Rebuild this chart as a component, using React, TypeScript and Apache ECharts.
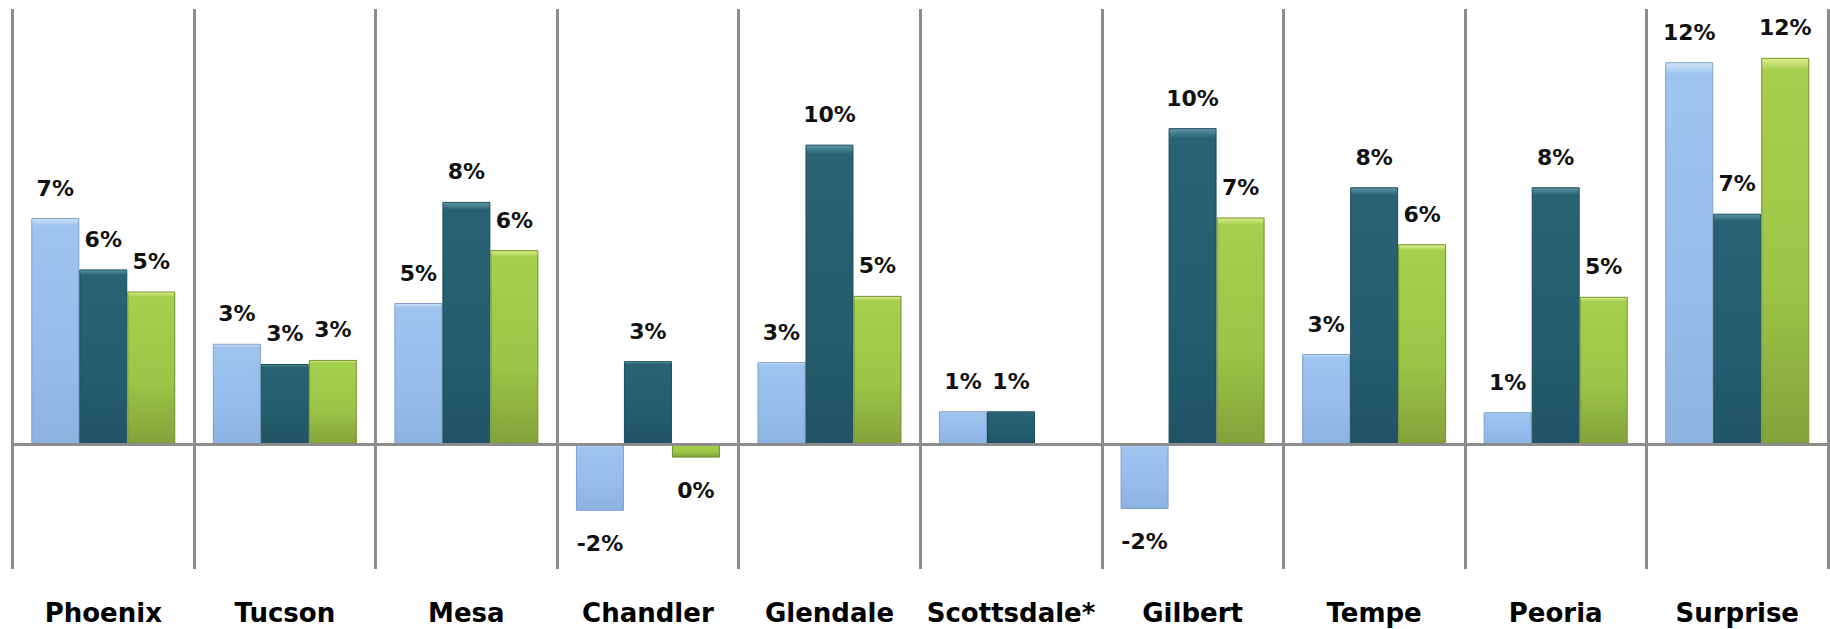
import React, { useEffect, useRef } from "react";
import * as echarts from "echarts";

const categories = ["Phoenix", "Tucson", "Mesa", "Chandler", "Glendale", "Scottsdale*", "Gilbert", "Tempe", "Peoria", "Surprise"];
const seriesA = [7.28, 3.24, 4.55, -2.13, 2.65, 1.07, -2.07, 2.91, 1.04, 12.29];
const seriesB = [5.63, 2.59, 7.8, 2.68, 9.64, 1.07, 10.17, 8.27, 8.27, 7.42];
const seriesC: (number | null)[] = [4.92, 2.72, 6.25, -0.42, 4.78, null, 7.3, 6.44, 4.75, 12.43];
const seriesNames = ["Series 1", "Series 2", "Series 3"];

const grad = (top: string, hi: string, mid: string, bottom: string) =>
  new echarts.graphic.LinearGradient(0, 0, 0, 1, [
    { offset: 0, color: top },
    { offset: 0.03, color: hi },
    { offset: 0.6, color: mid },
    { offset: 1, color: bottom },
  ]);

export default function App() {
  const ref = useRef<HTMLDivElement>(null);
  useEffect(() => {
    document.body.style.margin = "0";
    if (!ref.current) return;
    const chart = echarts.init(ref.current, undefined, { renderer: "svg" });

    const toData = (arr: (number | null)[]) =>
      arr.map((v) =>
        v === null
          ? null
          : {
              value: v,
              label: v < 0 ? { position: "bottom", distance: 22 } : { position: "top", distance: 19 },
            }
      );

    const labelCfg = {
      show: true,
      fontFamily: "DejaVu Sans",
      fontWeight: "bold",
      fontSize: 22,
      color: "#111",
      formatter: (p: any) => `${Math.round(p.value)}%`,
    };

    const styles = [
      { color: grad("#cfe6fb", "#9ec4ef", "#95bcec", "#8cb2e0"), borderColor: "#809fc6" },
      { color: grad("#5f97a6", "#286273", "#245e6e", "#1f5465"), borderColor: "#1c4c5a" },
      { color: grad("#dcf08c", "#a6cf4e", "#9cc447", "#83a23a"), borderColor: "#728f30" },
    ];

    const data = [seriesA, seriesB, seriesC];

    chart.setOption({
      animation: false,
      grid: { left: 12.5, right: 2, top: 9, bottom: 60, containLabel: false },
      xAxis: {
        type: "category",
        data: categories,
        axisLine: { show: false, onZero: false },
        axisTick: { show: false },
        splitLine: { show: true, interval: 0, lineStyle: { color: "#8c8c8c", width: 3 } },
        axisLabel: {
          interval: 0,
          margin: 31,
          fontFamily: "DejaVu Sans",
          fontWeight: "bold",
          fontSize: 26,
          color: "#000",
        },
      },
      yAxis: {
        type: "value",
        min: -4,
        max: 14,
        interval: 2,
        show: false,
        splitLine: { show: false },
      },
      series: data.map((arr, i) => ({
        name: seriesNames[i],
        type: "bar",
        barWidth: 48,
        barGap: "0%",
        data: toData(arr),
        itemStyle: { ...styles[i], borderWidth: 1 },
        label: labelCfg,
        markLine:
          i === 0
            ? {
                silent: true,
                symbol: ["none", "none"],
                label: { show: false },
                lineStyle: { color: "#8c8c8c", width: 3, type: "solid" },
                data: [{ yAxis: 0 }],
              }
            : undefined,
      })),
    });
    return () => chart.dispose();
  }, []);
  return <div ref={ref} style={{ width: 1830, height: 629 }} />;
}
